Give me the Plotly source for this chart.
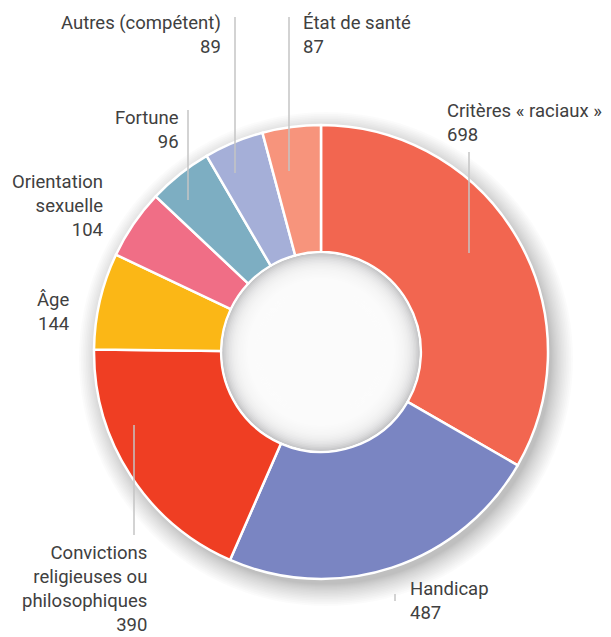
import plotly.graph_objects as go

# Données : nombre de réclamations par critère
categories = ["Critères « raciaux »", "Handicap", "Convictions religieuses ou philosophiques",
              "Âge", "Orientation sexuelle", "Fortune", "Autres (compétent)", "État de santé"]
values = [698, 487, 390, 144, 104, 96, 89, 87]
label_lines = [["Critères « raciaux »"], ["Handicap"],
               ["Convictions", "religieuses ou", "philosophiques"],
               ["Âge"], ["Orientation", "sexuelle"], ["Fortune"],
               ["Autres (compétent)"], ["État de santé"]]
colors = ["#F26650", "#7A85C2", "#EF3E23", "#FBB716",
          "#F06E86", "#7DAEC2", "#A5AFD8", "#F7947C"]

W, H = 611, 637
CX, CY, R = 321, 352, 227
HOLE = 0.44


def px(x):
    return x / W


def py(y):
    return 1 - y / H


fig = go.Figure(go.Pie(
    labels=categories, values=values, sort=False, direction="clockwise",
    hole=HOLE, marker=dict(colors=colors, line=dict(color="white", width=2.5)),
    textinfo="none", hoverinfo="label+value", showlegend=False,
    domain=dict(x=[px(CX - R), px(CX + R)], y=[py(CY + R), py(CY - R)]),
))

shapes = []

# Ombre portée autour de l'anneau
sx, sy = CX + 5, CY + 7
n_sh = 16
for i in range(n_sh):
    r = R - 2 + (i + 1) ** 1.3 * 0.6
    shapes.append(dict(type="circle", xref="paper", yref="paper", layer="below",
                       x0=px(sx - r), x1=px(sx + r), y0=py(sy + r), y1=py(sy - r),
                       fillcolor="rgba(0,0,0,0.017)", line=dict(width=0)))

# Ombre intérieure du trou central
rh = R * HOLE - 1.5
shapes.append(dict(type="circle", xref="paper", yref="paper", layer="above",
                   x0=px(CX - rh), x1=px(CX + rh), y0=py(CY + rh), y1=py(CY - rh),
                   fillcolor="#BEBFC1", line=dict(width=0)))
n_in = 26
for i in range(n_in):
    r = rh - i * (rh * 0.4) / n_in
    shapes.append(dict(type="circle", xref="paper", yref="paper", layer="above",
                       x0=px(CX - r), x1=px(CX + r), y0=py(CY + r), y1=py(CY - r),
                       fillcolor="rgba(255,255,255,0.17)", line=dict(width=0)))

# Traits de rappel
leaders = [(469, 152, 253), (395, 594, 601), (134, 425, 535), None,
           None, (188, 110, 200), (235, 17, 173), (289, 17, 171)]
for seg in leaders:
    if seg is None:
        continue
    x, y0, y1 = seg
    shapes.append(dict(type="line", xref="paper", yref="paper", layer="above",
                       x0=px(x), x1=px(x), y0=py(y0), y1=py(y1),
                       line=dict(color="#C4C4C4", width=1.5)))

# Étiquettes : (x, centre vertical, ancrage)
label_pos = [(445, 123, "left"), (408, 601, "left"), (149, 589, "right"),
             (71, 312, "right"), (105, 206, "right"), (181, 130, "right"),
             (223, 35, "right"), (301, 35, "left")]
annotations = []
for lines, v, (x, y, anchor) in zip(label_lines, values, label_pos):
    text = "<br>".join(lines + [str(v)])
    annotations.append(dict(text=text, x=px(x), y=py(y), xref="paper", yref="paper",
                            xanchor=anchor, yanchor="middle", align=anchor,
                            showarrow=False,
                            font=dict(family="Roboto", size=18.5, weight=400,
                                      color="#404040")))

fig.update_layout(width=W, height=H, margin=dict(l=0, r=0, t=0, b=0),
                  paper_bgcolor="white", plot_bgcolor="white",
                  shapes=shapes, annotations=annotations)

fig.write_html("out.html")
